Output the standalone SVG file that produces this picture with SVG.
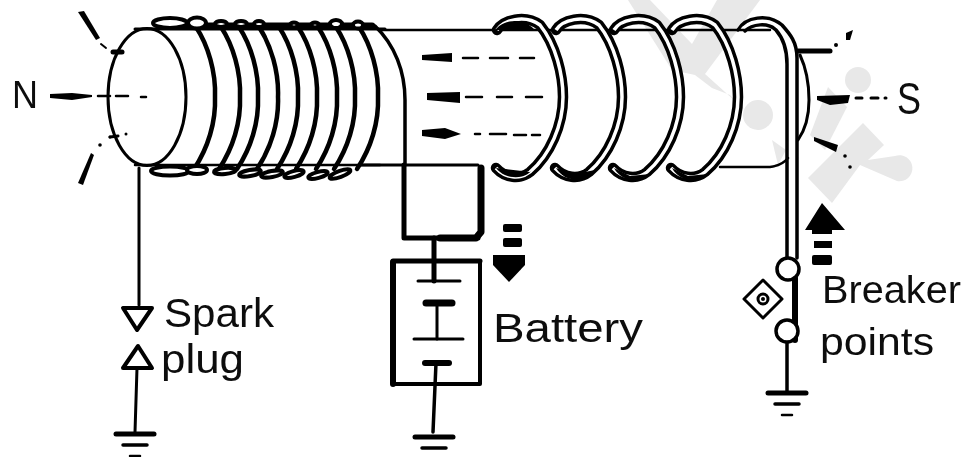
<svg xmlns="http://www.w3.org/2000/svg" width="965" height="457" viewBox="0 0 965 457">
<style>
.w{fill:none;stroke:#000;stroke-linecap:round;stroke-linejoin:round}
.t{font-family:"Liberation Sans",Arial,sans-serif;fill:#111}
.wm{fill:#e8e8e8;stroke:none}
.fi{fill:#000;stroke:none}
.lp{fill:#fff;stroke:#000;stroke-width:4}
</style>
<defs>
<filter id="soft" x="-5%" y="-5%" width="110%" height="110%"><feGaussianBlur stdDeviation="0.55"/></filter>
<path id="turn" d="M-19 27C-7 45 1 72 0 97C1 122 -7 148 -21 169"/>
<path id="ringpath" d="M497 30C503 20 525 14 540 25C556 45 563 75 563 97C563 125 550 155 530 172C520 180 505 178 496 168"/>
<g id="ring"><use href="#ringpath" class="w" stroke-width="10.500"/><use href="#ringpath" fill="none" stroke="#fff" stroke-width="3.500"/></g>
<g id="ground"><path class="w" stroke-width="5" d="M-19 0H19"/><path class="w" stroke-width="3.500" d="M-12 11H12"/><path class="w" stroke-width="2.500" d="M-5 22H5"/></g>
</defs>
<rect width="965" height="457" fill="#fff"/>
<g id="watermark">
<path class="wm" d="M628 0H650L692 44L717 0H760L705 74L745 110L730 95L712 88L695 75L672 70Z"/>
<circle class="wm" cx="758" cy="115" r="15"/>
<circle class="wm" cx="858" cy="80" r="13"/>
<path class="wm" d="M828 87L847 107L825 150L810 135Z"/>
<path class="wm" d="M863 123L884 145L868 160L895 156A13 13 0 1 1 897 181L860 165L832 203L808 178Z"/>
<path class="wm" d="M772 140L786 150L778 165Z"/>
</g>
<g filter="url(#soft)">
<g id="connectors">
<path class="w" stroke-width="3" d="M139 168L139 305"/>
<path class="w" stroke-width="3" d="M137 368L135 432"/>
<path class="w" stroke-width="5" d="M434 238V281"/>
<path class="w" stroke-width="3" d="M437 303V339"/>
<path class="w" stroke-width="3.500" d="M436 363L433 432"/>
<path class="w" stroke-width="3.500" d="M787 342V392"/>
<path class="w" stroke-width="5" d="M404 165V238H478"/>
<path class="w" stroke-width="7" d="M481 168V232L476 238H440"/>
<path class="w" stroke-width="3" d="M360 165H478"/>
</g>
<g id="core">
<path class="w" stroke="#333" stroke-width="2.500" d="M380 30H770"/>
<path class="w" stroke-width="2.500" d="M720 167H770C778 166 784 163 788 158"/>
<path class="w" stroke-width="3" d="M135 29H385"/>
<path class="w" stroke-width="2.500" d="M135 165H380"/>
<ellipse class="w" stroke-width="3" cx="147" cy="97" rx="39" ry="68.500"/>
</g>
<g id="primary-coil">
<g stroke-width="4.500" class="w">
<use href="#turn" x="215"/><use href="#turn" x="240"/><use href="#turn" x="258"/><use href="#turn" x="278"/><use href="#turn" x="298"/><use href="#turn" x="317"/><use href="#turn" x="337"/><use href="#turn" x="355"/><use href="#turn" x="378"/>
</g>
<path class="w" stroke-width="3.500" d="M375 26C395 45 405 72 405 100V165"/>
<path class="w" stroke-width="7" d="M186 26H372"/>
<g>
<ellipse class="lp" cx="170" cy="23" rx="17" ry="5"/>
<ellipse class="lp" cx="197" cy="23" rx="9" ry="5.500"/>
<ellipse class="lp" cx="221" cy="24" rx="6" ry="3"/>
<ellipse class="lp" cx="241" cy="24" rx="6" ry="3"/>
<ellipse class="lp" cx="259" cy="24" rx="5" ry="3"/>
<ellipse class="lp" cx="294" cy="25" rx="4" ry="2.500"/>
<ellipse class="lp" cx="315" cy="25" rx="4" ry="2.500"/>
<ellipse class="lp" cx="336" cy="24" rx="6" ry="4"/>
<ellipse class="lp" cx="358" cy="25" rx="5" ry="3.500"/>
</g>
<g>
<ellipse class="lp" cx="170" cy="171" rx="19" ry="4.500"/>
<ellipse class="lp" cx="197" cy="170" rx="10" ry="4"/>
<ellipse class="lp" cx="225" cy="171" rx="11" ry="3" transform="rotate(-5 225 171)"/>
<ellipse class="lp" cx="250" cy="173" rx="11" ry="3" transform="rotate(-10 250 173)"/>
<ellipse class="lp" cx="272" cy="174" rx="11" ry="3" transform="rotate(-10 272 174)"/>
<ellipse class="lp" cx="294" cy="174" rx="10" ry="3" transform="rotate(-15 294 174)"/>
<ellipse class="lp" cx="318" cy="175" rx="10" ry="3" transform="rotate(-15 318 175)"/>
<ellipse class="lp" cx="340" cy="174" rx="11" ry="3" transform="rotate(-20 340 174)"/>
</g>
</g>
<g id="secondary-coil">
<use href="#ring"/><use href="#ring" x="59"/><use href="#ring" x="117"/><use href="#ring" x="175"/>
<path class="fi" d="M495 30C505 18 525 18 535 30Z"/>
<path class="fi" d="M496 168C505 180 525 180 532 170L530 172ZM556 168C565 183 585 183 595 170L575 174ZM614 168C622 183 640 182 650 174L630 176ZM672 168C680 183 698 182 708 174L688 176Z"/>
<path class="w" stroke-width="3.500" d="M738 30C745 17 768 13 782 25C790 34 797 42 797 58V258"/>
<path class="w" stroke-width="3.500" d="M745 31C752 24 768 22 776 30C783 38 787 48 787 64V258"/>
<path class="w" stroke-width="3" d="M800 55C807 70 809 85 809 100C809 115 805 130 798 140"/>
<path class="w" stroke-width="5" d="M798 51H830"/>
</g>
<g id="field-lines">
<path class="fi" d="M50 94L72 93L92 95V97L72 100L50 98Z"/>
<path class="w" stroke-width="2.500" stroke-dasharray="12 6" d="M98 96H130"/><path class="w" stroke-width="2.500" d="M141 97H146"/>
<path class="fi" d="M78 12L84 11L100 38L96 40Z"/><path class="w" stroke-width="2" d="M101 44L106 48"/><path class="w" stroke-width="5" d="M113 52H122"/>
<path class="fi" d="M91 153L94 155L83 185L78 183Z"/><circle class="fi" cx="100" cy="145" r="1.800"/><circle class="fi" cx="110" cy="137" r="1.500"/><circle class="fi" cx="126" cy="134" r="1.500"/><path class="w" stroke-width="3" d="M110 137L118 136"/>
<path class="fi" d="M422 55L452 53V62L422 60ZM427 93L460 92V103L427 100ZM422 130L445 128L461 134L445 139L422 136Z"/>
<g class="w" stroke-width="2.500"><path d="M463 58H478M490 58H508M520 58H534"/><path d="M466 97H482M497 97H512M526 97H542"/><path d="M475 134H480M490 134H506M514 135H526M532 135H540"/></g>
<path class="fi" d="M817 96L850 95L848 103L830 105L817 100Z"/><path class="w" stroke-width="3" d="M856 98H862M871 98H878M885 98H886"/>
<path class="fi" d="M814 137L838 145L836 152L814 141Z"/><circle class="fi" cx="845" cy="156" r="1.800"/><circle class="fi" cx="850" cy="167" r="1.800"/><circle class="fi" cx="836" cy="45" r="2"/><path class="fi" d="M846 33L853 30L850 40L846 40Z"/>
<path class="fi" d="M493 255H525V265L509 282L493 265Z"/><rect class="fi" x="503" y="224" width="19" height="8" rx="2"/><rect class="fi" x="503" y="238" width="19" height="9" rx="2"/>
<path class="fi" d="M822 203L845 230H832V234H812V230H805Z"/><rect class="fi" x="814" y="241" width="18" height="7"/><rect class="fi" x="812" y="255" width="20" height="10" rx="2"/>
</g>
<g id="N"><text class="t" x="12" y="108" font-size="38" textLength="26" lengthAdjust="spacingAndGlyphs">N</text></g>
<g id="S"><text class="t" x="897" y="114" font-size="44" textLength="24" lengthAdjust="spacingAndGlyphs">S</text></g>
<g id="spark-plug">
<path d="M123 308H152L137 330Z" fill="#fff" stroke="#000" stroke-width="4" stroke-linejoin="round"/>
<path d="M138 346L152 368H123Z" fill="#fff" stroke="#000" stroke-width="4" stroke-linejoin="round"/>
<use href="#ground" x="135" y="434"/>
<text class="t" x="164" y="327" font-size="40" textLength="110" lengthAdjust="spacingAndGlyphs">Spark</text>
<text class="t" x="161" y="373" font-size="40" textLength="83" lengthAdjust="spacingAndGlyphs">plug</text>
</g>
<g id="battery">
<path class="w" stroke-width="6" d="M393 262V384"/>
<path class="w" stroke-width="5" d="M393 261H480"/>
<path class="w" stroke-width="4" d="M480 261V384H393"/>
<path class="w" stroke-width="3" d="M418 281H460"/>
<path class="w" stroke-width="7" d="M426 303H452"/>
<path class="w" stroke-width="3" d="M414 339H463"/>
<path class="w" stroke-width="6" d="M425 363H449"/>
<use href="#ground" x="434" y="437"/>
<text class="t" x="493" y="342" font-size="41" textLength="150" lengthAdjust="spacingAndGlyphs">Battery</text>
</g>
<g id="breaker-points">
<path class="w" stroke-width="6" d="M795 278V340"/>
<path class="w" stroke-width="3" d="M763 280L782 299L763 318L744 299Z"/>
<circle class="w" stroke-width="3" cx="763" cy="299" r="5"/><circle class="fi" cx="763" cy="299" r="2"/>
<circle cx="788" cy="269" r="11" fill="#fff" stroke="#000" stroke-width="3.500"/>
<circle cx="787" cy="331" r="11" fill="#fff" stroke="#000" stroke-width="3.500"/>
<use href="#ground" x="787" y="393"/>
<text class="t" x="822" y="303" font-size="39" textLength="139" lengthAdjust="spacingAndGlyphs">Breaker</text>
<text class="t" x="820" y="355" font-size="39" textLength="114" lengthAdjust="spacingAndGlyphs">points</text>
</g>
</g>
</svg>
